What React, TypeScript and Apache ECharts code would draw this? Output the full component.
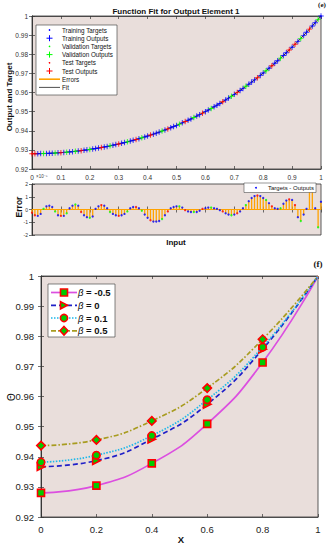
import React, { useEffect, useRef } from 'react';
import * as echarts from 'echarts';

// ---------- Panel (e) data ----------
const inputX = [
  0, 0.01, 0.02, 0.03, 0.04, 0.05, 0.06, 0.07, 0.08, 0.09,
  0.1, 0.11, 0.12, 0.13, 0.14, 0.15, 0.16, 0.17, 0.18, 0.19,
  0.2, 0.21, 0.22, 0.23, 0.24, 0.25, 0.26, 0.27, 0.28, 0.29,
  0.3, 0.31, 0.32, 0.33, 0.34, 0.35, 0.36, 0.37, 0.38, 0.39,
  0.4, 0.41, 0.42, 0.43, 0.44, 0.45, 0.46, 0.47, 0.48, 0.49,
  0.5, 0.51, 0.52, 0.53, 0.54, 0.55, 0.56, 0.57, 0.58, 0.59,
  0.6, 0.61, 0.62, 0.63, 0.64, 0.65, 0.66, 0.67, 0.68, 0.69,
  0.7, 0.71, 0.72, 0.73, 0.74, 0.75, 0.76, 0.77, 0.78, 0.79,
  0.8, 0.81, 0.82, 0.83, 0.84, 0.85, 0.86, 0.87, 0.88, 0.89,
  0.9, 0.91, 0.92, 0.93, 0.94, 0.95, 0.96, 0.97, 0.98, 0.99,
  1,
];

const fitOutput = [
  0.928, 0.92801, 0.92802, 0.92805, 0.92809, 0.92814, 0.9282, 0.92827, 0.92835, 0.92845,
  0.92855, 0.92867, 0.9288, 0.92893, 0.92908, 0.92925, 0.92942, 0.9296, 0.9298, 0.93001,
  0.93023, 0.93046, 0.9307, 0.93096, 0.93122, 0.9315, 0.9318, 0.9321, 0.93242, 0.93275,
  0.93309, 0.93344, 0.93381, 0.93419, 0.93459, 0.93499, 0.93541, 0.93585, 0.9363, 0.93676,
  0.93724, 0.93773, 0.93823, 0.93875, 0.93929, 0.93983, 0.9404, 0.94098, 0.94157, 0.94219,
  0.94281, 0.94346, 0.94412, 0.94479, 0.94548, 0.94619, 0.94692, 0.94766, 0.94843, 0.94921,
  0.95, 0.95082, 0.95165, 0.95251, 0.95338, 0.95427, 0.95518, 0.95612, 0.95707, 0.95804,
  0.95903, 0.96005, 0.96108, 0.96214, 0.96322, 0.96432, 0.96544, 0.96659, 0.96775, 0.96895,
  0.97016, 0.9714, 0.97267, 0.97396, 0.97527, 0.97661, 0.97798, 0.97937, 0.98079, 0.98223,
  0.9837, 0.9852, 0.98673, 0.98829, 0.98987, 0.99148, 0.99313, 0.9948, 0.9965, 0.99824,
  1,
];

// errors in units of 1e-5
const errorE5 = [
  -0.25, -0.45, -0.5, -0.35, 0.05, 0.25, 0.3, 0.2, -0.15, -0.45,
  -0.5, -0.5, -0.3, 0.1, 0.3, 0.4, 0.3, -0.2, -0.45, -0.6,
  -0.65, -0.55, 0.05, 0.25, 0.35, 0.3, 0.1, -0.2, -0.35, -0.45,
  -0.5, -0.45, -0.35, -0.15, 0.1, 0.2, 0.2, 0.1, -0.1, -0.4,
  -0.65, -0.85, -0.95, -0.95, -0.9, -0.75, -0.45, -0.15, 0.1, 0.2,
  0.25, 0.25, 0.15, -0.05, -0.15, -0.2, -0.2, -0.2, -0.1, 0.05,
  0.1, 0.15, 0.15, 0.1, 0.05, -0.05, -0.15, -0.3, -0.4, -0.45,
  -0.4, -0.3, -0.15, 0.1, 0.35, 0.65, 0.9, 1.05, 1.1, 1.05,
  0.9, 0.75, 0.5, 0.25, 0.1, 0.05, 0.1, 0.45, 0.7, 0.8,
  0.75, 0.35, -0.6, -0.9, -0.4, 0.05, 1.5, 1.8, 0.1, -1.4,
  0.6,
];

// T = training, V = validation, S = test
const pointSet =
  'SSTTVTTTVT' + 'STVTTVTSTT' + 'VTTTSTTVTT' + 'STTVTTSTVT' + 'TSTTTVTSTT' +
  'TVTSTTVTTS' + 'TTVTTTSTTV' + 'TSTTVTTTST' + 'TVTSTTVTTS' + 'TSTVTTSTTV' + 'T';

const setDefs = [
  { key: 'T', name: 'Training', color: '#0000ff' },
  { key: 'V', name: 'Validation', color: '#00ff00' },
  { key: 'S', name: 'Test', color: '#ff0000' },
];

const topLegendItems = [
  'Training Targets', 'Training Outputs', 'Validation Targets', 'Validation Outputs',
  'Test Targets', 'Test Outputs', 'Errors', 'Fit',
];

// ---------- Panel (f) data ----------
const fX = [0, 0.2, 0.4, 0.6, 0.8, 1];
const thetaBetaNeg05 = [0.928, 0.9304, 0.9378, 0.9509, 0.9713, 1];
const thetaBeta0 = [0.9367, 0.9387, 0.9458, 0.9574, 0.9757, 1];
const thetaBeta01 = [0.9382, 0.9405, 0.947, 0.9589, 0.9764, 1];
const thetaBeta05 = [0.9437, 0.9456, 0.9519, 0.9628, 0.979, 1];
const betaLabels = ['-0.5', '0', '0.1', '0.5'];

const FONT = '"Liberation Sans", Arial, Helvetica, sans-serif';
const PINK = '#e9dedb';
const AX = '#333333';
const ORANGE = '#ffa200';
const PLUS =
  'path://M-1,-0.17L-0.17,-0.17L-0.17,-1L0.17,-1L0.17,-0.17L1,-0.17L1,0.17L0.17,0.17L0.17,1L-0.17,1L-0.17,0.17L-1,0.17Z';
const TRI_RIGHT = 'path://M0,0L10,5L0,10Z';

const setColor = (k: string) => setDefs.find((d) => d.key === k)!.color;

function boxAxis(gridIndex: number, position: string, isX: boolean, opts: any = {}) {
  return {
    gridIndex,
    type: 'value',
    position,
    axisLine: { show: true, lineStyle: { color: AX, width: 0.8 } },
    axisTick: { show: true, inside: true, length: 3, lineStyle: { color: AX, width: 0.7 } },
    axisLabel: { show: false },
    splitLine: { show: false },
    ...opts,
  };
}

function buildOption() {
  const series: any[] = [];

  // Fit line
  series.push({
    type: 'line', name: 'Fit', xAxisIndex: 0, yAxisIndex: 0,
    data: inputX.map((x, i) => [x, fitOutput[i]]),
    symbol: 'none', lineStyle: { color: '#000', width: 0.8 }, z: 2,
  });

  setDefs.forEach((d) => {
    const idx = inputX.map((_, i) => i).filter((i) => pointSet[i] === d.key);
    series.push({
      type: 'scatter', name: `${d.name} Targets`, xAxisIndex: 0, yAxisIndex: 0,
      symbol: 'circle', symbolSize: 1.6, itemStyle: { color: d.color },
      data: idx.map((i) => [inputX[i], fitOutput[i] + errorE5[i] * 1e-5]), z: 3,
    });
    series.push({
      type: 'scatter', name: `${d.name} Outputs`, xAxisIndex: 0, yAxisIndex: 0,
      symbol: PLUS, symbolSize: 5.5, itemStyle: { color: d.color },
      data: idx.map((i) => [inputX[i], fitOutput[i]]), z: d.key === 'T' ? 4 : 5,
    });
  });

  // Error stems
  series.push({
    type: 'bar', name: 'Errors', xAxisIndex: 2, yAxisIndex: 2,
    barWidth: 1.3, itemStyle: { color: ORANGE },
    data: inputX.map((x, i) => [x, errorE5[i]]), z: 2,
  });
  series.push({
    type: 'line', name: 'zero', xAxisIndex: 2, yAxisIndex: 2,
    data: [[0, 0], [1, 0]], symbol: 'none', lineStyle: { color: ORANGE, width: 1 }, z: 2,
  });
  series.push({
    type: 'scatter', name: 'Targets - Outputs', xAxisIndex: 2, yAxisIndex: 2,
    symbol: 'circle', symbolSize: 2.3, itemStyle: { color: '#0000ff' },
    data: inputX.map((x, i) => ({ value: [x, errorE5[i]], itemStyle: { color: setColor(pointSet[i]) } })),
    z: 4,
  });

  // Panel (f)
  const fDefs = [
    { name: 'β = -0.5', data: thetaBetaNeg05, color: '#dc4fe0', type: 'solid' as any, symbol: 'rect', size: 7 },
    { name: 'β = 0', data: thetaBeta0, color: '#2020c8', type: [5, 3], symbol: TRI_RIGHT, size: 7.5 },
    { name: 'β = 0.1', data: thetaBeta01, color: '#1cb8ea', type: [1.5, 1.5], symbol: 'circle', size: 7.5 },
    { name: 'β = 0.5', data: thetaBeta05, color: '#a89c20', type: [5, 2, 1.5, 2], symbol: 'diamond', size: 8.5 },
  ];
  fDefs.forEach((d, k) => {
    series.push({
      type: 'line', name: d.name, xAxisIndex: 4, yAxisIndex: 4,
      smooth: true,
      symbol: d.symbol, symbolSize: d.size, showAllSymbol: true,
      itemStyle: { color: '#00cc00', borderColor: '#ff0000', borderWidth: 1.6 },
      lineStyle: { color: d.color, width: 1.7, type: d.type },
      data: fX.map((x, i) => (i === fX.length - 1 ? { value: [x, d.data[i]], symbol: 'none' } : [x, d.data[i]])),
      z: 3 + k,
    });
  });

  // ---------- graphics ----------
  const g: any[] = [];
  const txt = (x: number, y: number, text: string, o: any = {}) => ({
    type: 'text', x, y, silent: true,
    style: { text, fill: '#111', font: `${o.bold ? 'bold ' : ''}${o.size || 7}px ${o.family || FONT}`, align: o.align || 'center', verticalAlign: 'middle', ...(o.style || {}) },
    rotation: o.rotation || 0,
    z: 100,
  });
  g.push(txt(176, 11.5, 'Function Fit for Output Element 1', { bold: true, size: 8 }));
  g.push(txt(322, 5, '(e)', { bold: true, size: 7, family: '"Liberation Serif", serif' }));
  g.push(txt(9, 97, 'Output and Target', { bold: true, size: 8, rotation: Math.PI / 2 }));
  g.push(txt(18.5, 207, 'Error', { bold: true, size: 8.5, rotation: Math.PI / 2 }));
  g.push(txt(176, 242, 'Input', { bold: true, size: 8 }));
  g.push(txt(36, 176.5, '×10⁻⁵', { size: 4.5, align: 'left', style: { fill: '#444' } }));
  g.push(txt(318, 264, '(f)', { bold: true, size: 9, family: '"Liberation Serif", serif' }));
  g.push(txt(11, 397, 'Θ', { size: 10, rotation: Math.PI / 2 }));
  g.push(txt(181, 539, 'X', { bold: true, size: 9.5 }));

  // top legend
  g.push({ type: 'rect', shape: { x: 36, y: 25, width: 81, height: 70 }, style: { fill: '#fff', stroke: '#333', lineWidth: 0.6 }, z: 90, silent: true });
  const rowsY = [30, 38.2, 46.4, 54.6, 62.8, 71, 79.2, 87.4];
  topLegendItems.forEach((name, i) => {
    const y = rowsY[i];
    if (i < 6) {
      const color = setDefs[Math.floor(i / 2)].color;
      if (i % 2 === 0) {
        g.push({ type: 'circle', shape: { cx: 49.5, cy: y, r: 0.8 }, style: { fill: color }, z: 95, silent: true });
      } else {
        g.push({ type: 'line', shape: { x1: 46.5, y1: y, x2: 52.5, y2: y }, style: { stroke: color, lineWidth: 1 }, z: 95, silent: true });
        g.push({ type: 'line', shape: { x1: 49.5, y1: y - 3, x2: 49.5, y2: y + 3 }, style: { stroke: color, lineWidth: 1 }, z: 95, silent: true });
      }
    } else {
      g.push({ type: 'line', shape: { x1: 39, y1: y, x2: 60, y2: y }, style: { stroke: i === 6 ? ORANGE : '#222', lineWidth: i === 6 ? 1.6 : 0.8 }, z: 95, silent: true });
    }
    g.push(txt(62, y, name, { size: 6.3, align: 'left' }));
  });

  // error legend
  g.push({ type: 'rect', shape: { x: 244, y: 183, width: 72, height: 9.5 }, style: { fill: '#fff', stroke: '#333', lineWidth: 0.5 }, z: 90, silent: true });
  g.push({ type: 'circle', shape: { cx: 256, cy: 187.8, r: 0.9 }, style: { fill: '#0000ff' }, z: 95, silent: true });
  g.push(txt(314, 187.8, 'Targets - Outputs', { size: 6, align: 'right' }));

  // (f) legend
  g.push({ type: 'rect', shape: { x: 48, y: 284, width: 67, height: 53 }, style: { fill: '#fff', stroke: '#333', lineWidth: 0.6 }, z: 90, silent: true });
  const fRows = [292.5, 305.3, 318, 330.8];
  fDefs.forEach((d, i) => {
    const y = fRows[i];
    const dash = d.type === 'solid' ? null : d.type;
    g.push({ type: 'line', shape: { x1: 51, y1: y, x2: 77, y2: y }, style: { stroke: d.color, lineWidth: 1.7, lineDash: dash }, z: 95, silent: true });
    const ms = { fill: '#00cc00', stroke: '#ff0000', lineWidth: 1.6 };
    if (i === 0) g.push({ type: 'rect', shape: { x: 60.5, y: y - 3.5, width: 7, height: 7 }, style: ms, z: 96, silent: true });
    if (i === 1) g.push({ type: 'polygon', shape: { points: [[60.5, y - 3.7], [67.5, y], [60.5, y + 3.7]] }, style: ms, z: 96, silent: true });
    if (i === 2) g.push({ type: 'circle', shape: { cx: 64, cy: y, r: 3.6 }, style: ms, z: 96, silent: true });
    if (i === 3) g.push({ type: 'polygon', shape: { points: [[64, y - 4.3], [68, y], [64, y + 4.3], [60, y]] }, style: ms, z: 96, silent: true });
    g.push({
      type: 'text', x: 78, y, z: 100, silent: true,
      style: {
        text: `{i|β}{b| = ${betaLabels[i]}}`, align: 'left', verticalAlign: 'middle',
        rich: {
          i: { font: `italic 9.5px ${FONT}`, fill: '#111' },
          b: { font: `bold 9.5px ${FONT}`, fill: '#111' },
        },
      },
    });
  });

  const lblTop = { show: true, fontSize: 6.5, color: AX, fontFamily: FONT, margin: 5 };
  const lblF = { show: true, fontSize: 9.5, color: '#222', fontFamily: FONT, margin: 6 };

  return {
    animation: false,
    backgroundColor: '#ffffff',
    grid: [
      { left: 32, top: 16, width: 289, height: 153, show: true, backgroundColor: PINK, borderColor: AX, borderWidth: 0.8 },
      { left: 32, top: 184, width: 289, height: 51, show: true, backgroundColor: PINK, borderColor: AX, borderWidth: 0.8 },
      { left: 41, top: 276, width: 277, height: 241, show: true, backgroundColor: PINK, borderColor: AX, borderWidth: 0.8 },
    ],
    xAxis: [
      boxAxis(0, 'bottom', true, {
        min: 0, max: 1, interval: 0.1,
        axisLabel: { ...lblTop, formatter: (v: number) => (v === 0 ? '0' : String(Number(v.toFixed(1)))) },
      }),
      boxAxis(0, 'top', true, { min: 0, max: 1, interval: 0.1 }),
      boxAxis(1, 'bottom', true, { min: 0, max: 1, interval: 0.1 }),
      boxAxis(1, 'top', true, { min: 0, max: 1, interval: 0.1 }),
      boxAxis(2, 'bottom', true, {
        min: 0, max: 1, interval: 0.2,
        axisLabel: { ...lblF, margin: 7, formatter: (v: number) => String(Number(v.toFixed(1))) },
      }),
      boxAxis(2, 'top', true, { min: 0, max: 1, interval: 0.2 }),
    ],
    yAxis: [
      boxAxis(0, 'left', false, {
        min: 0.92, max: 1, interval: 0.01,
        axisLabel: { ...lblTop, margin: 4, formatter: (v: number) => String(Number(v.toFixed(2))) },
      }),
      boxAxis(0, 'right', false, { min: 0.92, max: 1, interval: 0.01 }),
      boxAxis(1, 'left', false, {
        min: -2, max: 2, interval: 1,
        axisLabel: { ...lblTop, fontSize: 5, margin: 4, formatter: (v: number) => String(v) },
      }),
      boxAxis(1, 'right', false, { min: -2, max: 2, interval: 1 }),
      boxAxis(2, 'left', false, {
        min: 0.92, max: 1, interval: 0.01,
        axisLabel: { ...lblF, margin: 7, formatter: (v: number) => String(Number(v.toFixed(2))) },
      }),
      boxAxis(2, 'right', false, { min: 0.92, max: 1, interval: 0.01 }),
    ],
    series,
    graphic: g,
  };
}

export default function App() {
  const ref = useRef<HTMLDivElement>(null);
  useEffect(() => {
    document.body.style.margin = '0';
    if (!ref.current) return;
    const chart = echarts.init(ref.current, undefined, { renderer: 'svg' });
    chart.setOption(buildOption() as any);
    return () => chart.dispose();
  }, []);
  return <div ref={ref} style={{ width: 332, height: 550, position: 'absolute', left: 0, top: 0 }} />;
}
